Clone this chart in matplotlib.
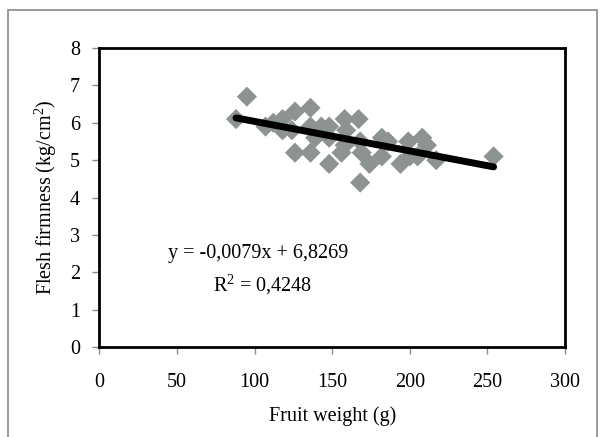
import matplotlib.pyplot as plt
from matplotlib.patches import Rectangle

# Fruit weight (g) and flesh firmness (kg/cm2) for each fruit
weight = [88, 95, 107, 112, 118, 118, 124, 126, 126, 136, 136, 136, 139, 143,
          148, 148, 148, 156, 158, 159, 158, 167, 168, 168, 169, 174, 182, 182,
          186, 194, 199, 200, 205, 208, 211, 217, 254]
firmness = [6.1, 6.7, 5.9, 6.0, 6.1, 5.8, 5.8, 6.3, 5.2, 6.4, 5.9, 5.2, 5.6, 5.9,
            5.9, 5.6, 4.9, 5.2, 6.1, 5.8, 5.4, 6.1, 5.5, 4.4, 5.2, 4.9, 5.6, 5.1,
            5.5, 4.9, 5.5, 5.1, 5.1, 5.6, 5.4, 5.0, 5.1]

# Linear trend line
slope = -0.0079
intercept = 6.8269
r2 = 0.4248

x_ticks = [0, 50, 100, 150, 200, 250, 300]
y_ticks = [0, 1, 2, 3, 4, 5, 6, 7, 8]

plt.rcParams['font.family'] = ['Liberation Serif', 'DejaVu Serif']
plt.rcParams['mathtext.fontset'] = 'custom'
plt.rcParams['mathtext.rm'] = 'Liberation Serif'
plt.rcParams['mathtext.default'] = 'regular'

fs = 14.5

fig = plt.figure(figsize=(6.04, 4.37), dpi=100)

# grey outer frame around the chart area
fig.patches.append(Rectangle((8 / 604, -0.05), 589 / 604, 1.05 - 10 / 437,
                             transform=fig.transFigure, fill=False,
                             edgecolor='#8a8a8a', linewidth=1.2))

ax = fig.add_axes([0.1647, 0.206, 0.7707, 0.684])

ax.scatter(weight, firmness, marker='D', s=105, color='#8d9393',
           edgecolors='none', zorder=2)

x_fit = [min(weight), max(weight)]
y_fit = [slope * v + intercept for v in x_fit]
ax.plot(x_fit, y_fit, color='black', linewidth=5, solid_capstyle='round',
        zorder=3)

ax.text(44, 2.5, 'y = -0,0079x + 6,8269', fontsize=fs, va='center')
ax.text(73, 1.66, 'R$^2$ = ' + f'{r2:.4f}'.replace('.', ','), fontsize=fs,
        va='center')

ax.set_xlim(0, 300)
ax.set_ylim(0, 8)
ax.set_xticks(x_ticks)
ax.set_yticks(y_ticks)
ax.tick_params(axis='both', direction='out', length=5, width=1,
               color='#8a8a8a', labelsize=fs)
ax.tick_params(axis='y', pad=9)
ax.tick_params(axis='x', pad=14)

for s in ax.spines.values():
    s.set_linewidth(2)
    s.set_color('black')

ax.set_xlabel('Fruit weight (g)', fontsize=fs, labelpad=10)
ax.set_ylabel('Flesh firmness (kg/cm$^2$)', fontsize=fs, labelpad=8)

fig.savefig('out.png', dpi=100)
